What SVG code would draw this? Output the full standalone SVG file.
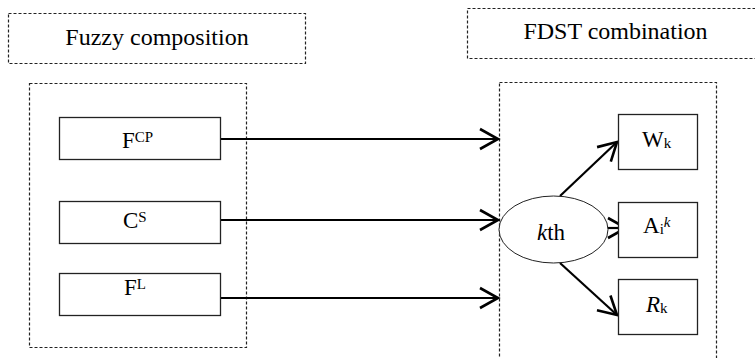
<svg xmlns="http://www.w3.org/2000/svg" width="755" height="358" viewBox="0 0 755 358">
  <style>
    .frame { fill: none; stroke: #222; stroke-width: 1.2; stroke-dasharray: 3 2; }
    .box { fill: #fff; stroke: #222; stroke-width: 1.3; }
    .oval { fill: #fff; stroke: #222; stroke-width: 1; }
    text { fill: #000; }
    .head { font-size: 24px; text-anchor: middle; }
    .main { font-size: 23px; }
    .small { font-size: 15px; }
    .edge { fill: none; stroke: #000; stroke-width: 2.2; marker-end: url(#chevron); }
  </style>
  <defs>
    <marker id="chevron" markerUnits="userSpaceOnUse" viewBox="-20 -12 22 24" markerWidth="22" markerHeight="24" refX="0" refY="0" orient="auto" overflow="visible">
      <path d="M-18,-10 L0,0 L-18,10" fill="none" stroke="#000" stroke-width="2.6" stroke-linejoin="miter"/>
    </marker>
  </defs>

  <g font-family="Liberation Serif, Times New Roman, serif">
    <!-- section headers -->
    <g id="fuzzy-composition">
      <rect class="frame" x="8.5" y="13.5" width="297" height="50"/>
      <text class="head" x="157" y="45">Fuzzy composition</text>
    </g>
    <g id="fdst-combination">
      <rect class="frame" x="467.5" y="8.5" width="300" height="50"/>
      <text class="head" x="615.5" y="39">FDST combination</text>
    </g>

    <!-- group frames -->
    <g id="input-frame">
      <rect class="frame" x="29.5" y="83.5" width="217" height="264"/>
    </g>
    <g id="combination-frame">
      <rect class="frame" x="499.5" y="82.5" width="217" height="290"/>
    </g>

    <!-- connectors -->
    <g id="connectors">
      <line class="edge" x1="220" y1="139" x2="498" y2="139"/>
      <line class="edge" x1="220" y1="220" x2="498" y2="220"/>
      <line class="edge" x1="220" y1="298" x2="498" y2="298"/>
      <line class="edge" x1="560" y1="196" x2="617" y2="142"/>
      <line class="edge" x1="607" y1="228" x2="626" y2="228"/>
      <line class="edge" x1="560" y1="263" x2="617" y2="315"/>
    </g>

    <!-- input nodes -->
    <g id="node-fcp">
      <rect class="box" x="59.5" y="117.5" width="161" height="42"/>
      <text class="main" x="122" y="148">F<tspan class="small" dy="-6">CP</tspan></text>
    </g>
    <g id="node-cs">
      <rect class="box" x="59.5" y="201.5" width="161" height="42"/>
      <text class="main" x="123" y="228">C<tspan class="small" dy="-6">S</tspan></text>
    </g>
    <g id="node-fl">
      <rect class="box" x="59.5" y="273.5" width="161" height="42"/>
      <text class="main" x="124" y="295">F<tspan class="small" dy="-6">L</tspan></text>
    </g>

    <!-- combination step -->
    <g id="node-kth">
      <ellipse class="oval" cx="553.5" cy="229.5" rx="54.5" ry="33.5"/>
      <text class="main" x="537" y="240"><tspan font-style="italic">k</tspan>th</text>
    </g>

    <!-- outputs -->
    <g id="node-wk">
      <rect class="box" x="618.5" y="114.5" width="79" height="55"/>
      <text class="main" x="642" y="147">W<tspan class="small" dy="1">k</tspan></text>
    </g>
    <g id="node-aik">
      <rect class="box" x="618.5" y="202.5" width="79" height="55"/>
      <text class="main" x="643" y="233">A<tspan class="small" dy="1">i</tspan><tspan class="small" font-style="italic" dy="-7">k</tspan></text>
    </g>
    <g id="node-rk">
      <rect class="box" x="618.5" y="279.5" width="79" height="55"/>
      <text class="main" x="646" y="312"><tspan font-style="italic">R</tspan><tspan class="small" dy="1">k</tspan></text>
    </g>
  </g>
</svg>
